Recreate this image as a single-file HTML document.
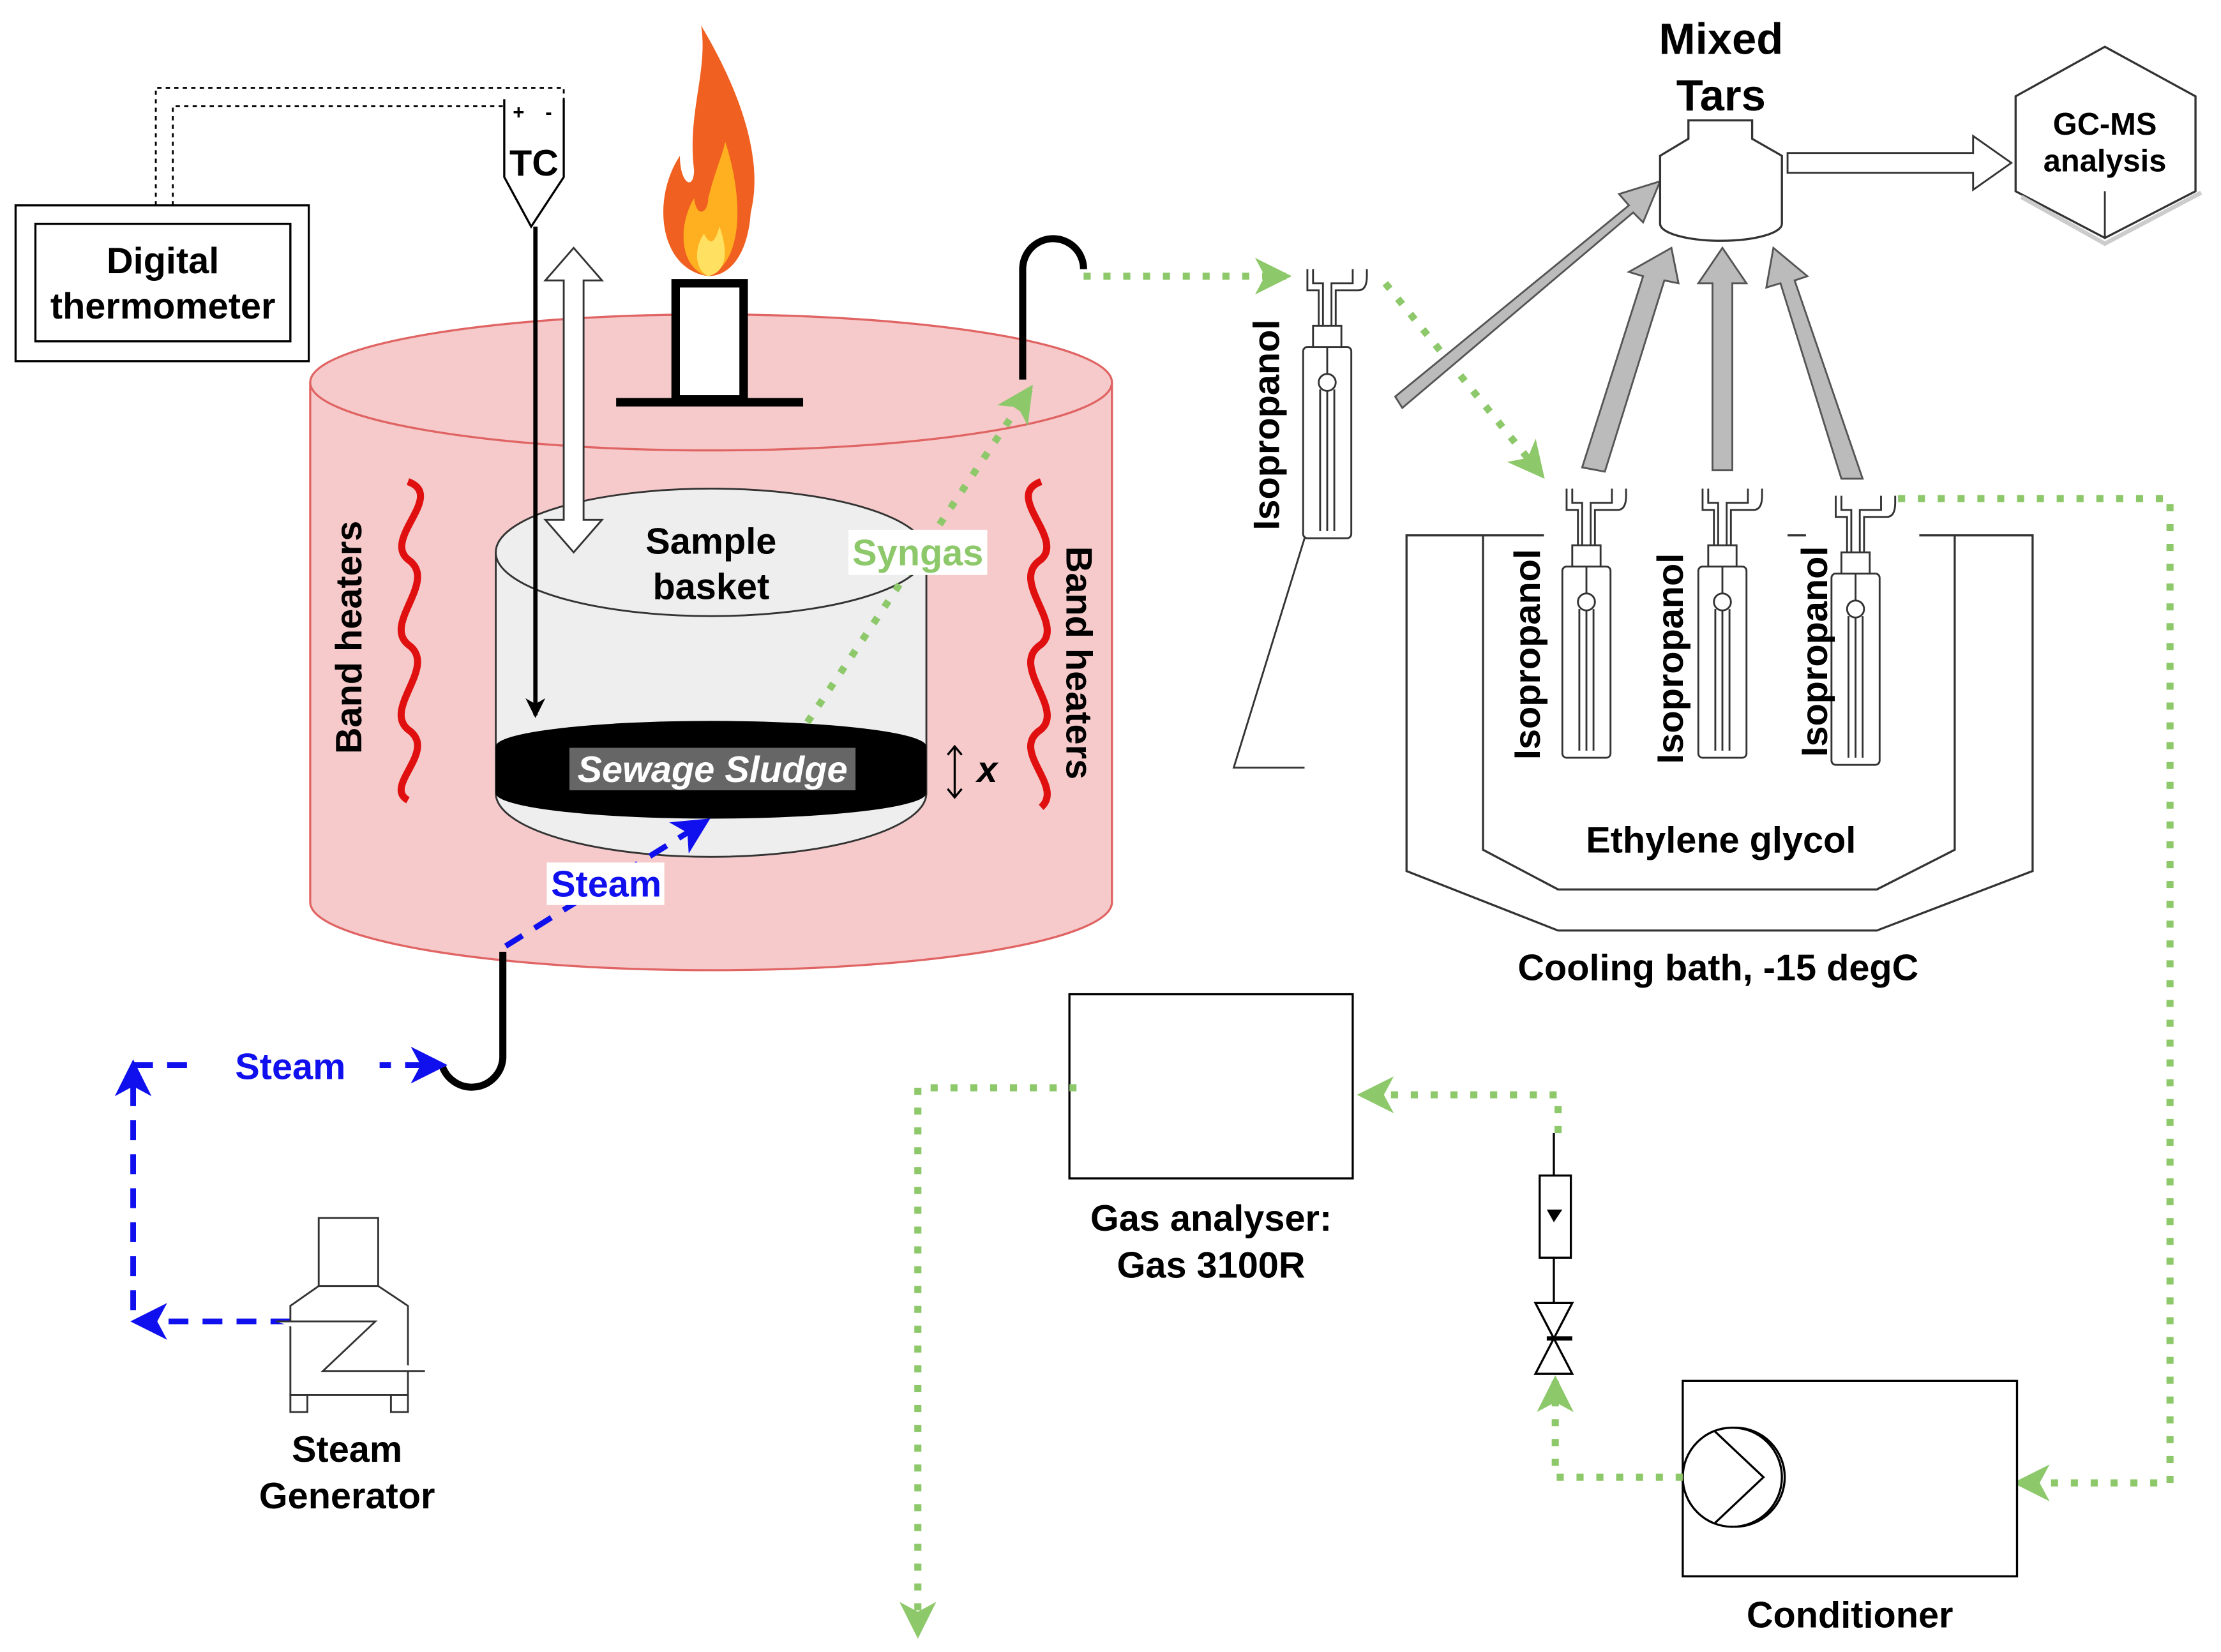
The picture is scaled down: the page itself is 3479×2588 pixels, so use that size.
<!DOCTYPE html>
<html><head><meta charset="utf-8"><style>html,body{margin:0;padding:0;background:#fff}svg{display:block}text{font-family:"Liberation Sans",sans-serif;font-weight:bold}</style></head>
<body>
<svg width="3479" height="2588" viewBox="0 0 1568 1166.4" xmlns="http://www.w3.org/2000/svg">
<defs>
<marker id="ga" markerWidth="26" markerHeight="26" refX="22" refY="13" orient="auto" viewBox="0 0 26 26" markerUnits="userSpaceOnUse"><path d="M0,0 L26,13 L0,26 L7,13 Z" fill="#8dc86a"/></marker>
<marker id="ba" markerWidth="26" markerHeight="26" refX="22" refY="13" orient="auto" viewBox="0 0 26 26" markerUnits="userSpaceOnUse"><path d="M0,0 L26,13 L0,26 L7,13 Z" fill="#1010ee"/></marker>
<marker id="ka" markerWidth="14" markerHeight="14" refX="12" refY="7" orient="auto" viewBox="0 0 14 14" markerUnits="userSpaceOnUse"><path d="M0,0 L14,7 L0,14 L4,7 Z" fill="#000"/></marker>
<g id="bottle" fill="#fff" stroke="#333" stroke-width="1.3">
<rect x="-17" y="60" width="34" height="135" rx="3"/>
<rect x="-10" y="45" width="20" height="15"/>
<path d="M-6,45 V20 H-14 V5 M6,45 V20 H22 Q28,20 28,10 V5 M-3,45 V15 H-10 V5 M3,45 V15 H18 V5"/>
<line x1="0" y1="60" x2="0" y2="190"/><line x1="-5" y1="90" x2="-5" y2="190"/><line x1="5" y1="90" x2="5" y2="190"/>
<circle cx="0" cy="85" r="6"/>
</g>
</defs>
<rect x="11" y="145" width="207" height="110" fill="#fff" stroke="#000" stroke-width="1.5"/>
<rect x="25" y="158" width="180" height="83" fill="#fff" stroke="#000" stroke-width="1.5"/>
<text x="115" y="193" font-size="26" text-anchor="middle">Digital</text>
<text x="115" y="225" font-size="26" text-anchor="middle">thermometer</text>
<path d="M110,145 V62 H398 V75 M122,145 V75 H360" fill="none" stroke="#000" stroke-width="1.3" stroke-dasharray="3,3"/>
<path d="M356,70 V125 L375,160 L398,125 V70" fill="#fff" stroke="#000" stroke-width="1.5"/>
<text x="362" y="84" font-size="14" font-weight="normal">+</text><text x="385" y="84" font-size="14" font-weight="normal">-</text>
<text x="377" y="124" font-size="26" text-anchor="middle">TC</text>
<path d="M219,270 V637 A283,48 0 0 0 785,637 V270" fill="#f6caca" stroke="#e06464" stroke-width="1.5"/>
<ellipse cx="502" cy="270" rx="283" ry="48" fill="#f6caca" stroke="#e06464" stroke-width="1.5"/>
<rect x="477" y="200" width="48" height="82" fill="#fff" stroke="#000" stroke-width="6"/>
<line x1="435" y1="284" x2="567" y2="284" stroke="#000" stroke-width="6"/>
<path d="M500,195 C465,190 460,140 480,110 C480,130 490,135 490,120 C485,80 500,50 495,18 C520,60 540,110 530,150 C528,180 515,195 500,195 Z" fill="#f06020"/>
<path d="M500,195 C480,190 478,160 490,140 C492,155 500,150 500,140 C505,120 510,110 512,100 C525,140 525,185 500,195 Z" fill="#ffb020"/>
<path d="M500,195 C490,190 490,175 497,165 C502,175 505,170 508,160 C515,180 512,192 500,195 Z" fill="#ffe060"/>
<path d="M288,340 C315,350 270,380 288,395 C310,410 270,440 288,455 C310,470 270,500 288,515 C310,530 270,555 288,565" fill="none" stroke="#e01010" stroke-width="5"/>
<path d="M735,340 C708,350 752,380 735,395 C712,410 752,440 735,455 C712,470 752,500 735,515 C712,530 752,555 735,570" fill="none" stroke="#e01010" stroke-width="5"/>
<text transform="translate(255,450) rotate(-90)" font-size="26" text-anchor="middle">Band heaters</text>
<text transform="translate(753,468) rotate(90)" font-size="26" text-anchor="middle">Band heaters</text>
<path d="M350,390 V560 A152,45 0 0 0 654,560 V390" fill="#eee" stroke="#333" stroke-width="1.3"/>
<ellipse cx="502" cy="390" rx="152" ry="45" fill="#eee" stroke="#333" stroke-width="1.3"/>
<path d="M350,527 A152,18 0 0 1 654,527 V560 A152,18 0 0 1 350,560 Z" fill="#000"/>
<rect x="402" y="528" width="202" height="30" fill="#666"/>
<text x="503" y="552" font-size="26" fill="#fff" font-style="italic" text-anchor="middle">Sewage Sludge</text>
<text x="502" y="391" font-size="26" text-anchor="middle">Sample</text>
<text x="502" y="423" font-size="26" text-anchor="middle">basket</text>
<path d="M405,175 L425,198 H412 V367 H425 L405,390 L385,367 H398 V198 H385 Z" fill="#fff" stroke="#333" stroke-width="1.3"/>
<line x1="378" y1="160" x2="378" y2="505" stroke="#000" stroke-width="3" marker-end="url(#ka)"/>
<path d="M674,527 V563 M669,533 L674,527 L679,533 M669,557 L674,563 L679,557" fill="none" stroke="#000" stroke-width="1.5"/>
<text x="697" y="552" font-size="26" font-style="italic" text-anchor="middle">x</text>
<path d="M722,268 V190 A21,21 0 0 1 765,190" fill="none" stroke="#000" stroke-width="5"/>
<path d="M355,672 V747 A22,22 0 0 1 312,752" fill="none" stroke="#000" stroke-width="5"/>
<line x1="570" y1="510" x2="727" y2="275" stroke="#8dc86a" stroke-width="5" stroke-dasharray="5,9" marker-end="url(#ga)"/>
<rect x="599" y="374" width="98" height="32" fill="#fff"/>
<text x="648" y="399" font-size="26" fill="#8dc86a" text-anchor="middle">Syngas</text>
<line x1="765" y1="195" x2="908" y2="195" stroke="#8dc86a" stroke-width="5" stroke-dasharray="5,9" marker-end="url(#ga)"/>
<line x1="357" y1="668" x2="498" y2="580" stroke="#1010ee" stroke-width="4" stroke-dasharray="14,10" marker-end="url(#ba)"/>
<rect x="386" y="609" width="83" height="30" fill="#fff"/>
<text x="428" y="633" font-size="26" fill="#1010ee" text-anchor="middle">Steam</text>
<path d="M205,933 H96" stroke="#1010ee" stroke-width="4" stroke-dasharray="14,10" fill="none" marker-end="url(#ba)"/>
<path d="M94,925 V752" stroke="#1010ee" stroke-width="4" stroke-dasharray="14,10" fill="none" marker-end="url(#ba)"/>
<path d="M94,752 H312" stroke="#1010ee" stroke-width="4" stroke-dasharray="14,10" fill="none" marker-end="url(#ba)"/>
<rect x="140" y="738" width="128" height="30" fill="#fff"/>
<text x="205" y="762" font-size="26" fill="#1010ee" text-anchor="middle">Steam</text>
<g fill="#fff" stroke="#333" stroke-width="1.3">
<rect x="225" y="860" width="42" height="48"/>
<path d="M225,908 L205,922 V985 H288 V922 L267,908 Z"/>
<rect x="205" y="985" width="12" height="12"/><rect x="276" y="985" width="12" height="12"/>
<path d="M195,933 H265 L228,968 H300"/>
</g>
<text x="245" y="1032" font-size="26" text-anchor="middle">Steam</text>
<text x="245" y="1065" font-size="26" text-anchor="middle">Generator</text>
<use href="#bottle" x="937" y="185"/>
<path d="M921,380 L871,542 H921" fill="none" stroke="#333" stroke-width="1.3"/>
<text transform="translate(903,300) rotate(-90)" font-size="26" text-anchor="middle">Isopropanol</text>
<line x1="978" y1="200" x2="1088" y2="335" stroke="#8dc86a" stroke-width="5" stroke-dasharray="5,9" marker-end="url(#ga)"/>
<g fill="none" stroke="#333" stroke-width="1.5">
<path d="M1090,378 H993 V615 L1100,657 H1325 L1435,615 V378 H1355"/>
<path d="M1047,378 V600 L1100,628 H1325 L1380,600 V378"/>
<path d="M1262,378 H1275"/>
</g>
<use href="#bottle" x="1120" y="340"/>
<use href="#bottle" x="1216" y="340"/>
<use href="#bottle" x="1310" y="345"/>
<text transform="translate(1087,462) rotate(-90)" font-size="26" text-anchor="middle">Isopropanol</text>
<text transform="translate(1188,465) rotate(-90)" font-size="26" text-anchor="middle">Isopropanol</text>
<text transform="translate(1290,460) rotate(-90)" font-size="26" text-anchor="middle">Isopropanol</text>
<text x="1215" y="602" font-size="26" text-anchor="middle">Ethylene glycol</text>
<text x="1213" y="692" font-size="26" text-anchor="middle">Cooling bath, -15 degC</text>
<g fill="#bbb" stroke="#555" stroke-width="1.3">
<path d="M985,280 L1150,145 L1143,137 L1172,128 L1160,157 L1153,150 L990,288 Z"/>
<path d="M1117,330 L1160,195 L1150,192 L1180,175 L1185,200 L1175,198 L1133,333 Z"/>
<path d="M1209,332 V200 H1199 L1216,175 L1233,200 H1223 V332 Z"/>
<path d="M1300,338 L1257,200 L1247,203 L1252,175 L1276,195 L1267,198 L1315,338 Z"/>
</g>
<path d="M1192,85 H1237 V98 L1258,110 V158 A43,12 0 0 1 1172,158 V110 L1192,98 Z" fill="#fff" stroke="#333" stroke-width="1.5"/>
<text x="1215" y="38" font-size="31" text-anchor="middle">Mixed</text>
<text x="1215" y="78" font-size="31" text-anchor="middle">Tars</text>
<path d="M1262,108 H1393 V96 L1420,115 L1393,134 V122 H1262 Z" fill="#fff" stroke="#333" stroke-width="1.3"/>
<path d="M1486,33 L1550,68 V135 L1486,168 L1423,135 V68 Z" fill="#fff" stroke="#333" stroke-width="1.5"/>
<path d="M1427,139 L1486,172 L1554,136" fill="none" stroke="#ccc" stroke-width="3"/>
<path d="M1486,168 V135" stroke="#333" stroke-width="1.3"/>
<text x="1486" y="95" font-size="22" text-anchor="middle">GC-MS</text>
<text x="1486" y="121" font-size="22" text-anchor="middle">analysis</text>
<path d="M1340,352 H1532 V1047 H1425" fill="none" stroke="#8dc86a" stroke-width="5" stroke-dasharray="5,9" marker-end="url(#ga)"/>
<rect x="1188" y="975" width="236" height="138" fill="#fff" stroke="#000" stroke-width="1.5"/>
<circle cx="1223" cy="1043" r="35" fill="#fff" stroke="#000" stroke-width="1.5"/>
<path d="M1210,1010 L1245,1043 L1210,1076 M1225,1008 A35,35 0 0 1 1225,1078" fill="none" stroke="#000" stroke-width="1.5"/>
<text x="1306" y="1149" font-size="26" text-anchor="middle">Conditioner</text>
<path d="M1188,1043 H1098 V975" fill="none" stroke="#8dc86a" stroke-width="5" stroke-dasharray="5,9" marker-end="url(#ga)"/>
<path d="M1084,920 H1110 L1084,970 H1110 Z" fill="#fff" stroke="#000" stroke-width="1.5"/>
<line x1="1092" y1="945" x2="1110" y2="945" stroke="#000" stroke-width="3"/>
<line x1="1097" y1="888" x2="1097" y2="920" stroke="#000" stroke-width="1.5"/>
<line x1="1097" y1="800" x2="1097" y2="830" stroke="#000" stroke-width="1.5"/>
<rect x="1087" y="830" width="22" height="58" fill="#fff" stroke="#000" stroke-width="1.5"/>
<path d="M1092,854 H1103 L1097,863 Z" fill="#000"/>
<path d="M1100,800 V773 H962" fill="none" stroke="#8dc86a" stroke-width="5" stroke-dasharray="5,9" marker-end="url(#ga)"/>
<rect x="755" y="702" width="200" height="130" fill="#fff" stroke="#000" stroke-width="1.5"/>
<text x="855" y="869" font-size="26" text-anchor="middle">Gas analyser:</text>
<text x="855" y="902" font-size="26" text-anchor="middle">Gas 3100R</text>
<path d="M760,768 H648 V1153" fill="none" stroke="#8dc86a" stroke-width="5" stroke-dasharray="5,9" marker-end="url(#ga)"/>
</svg>
</body></html>
